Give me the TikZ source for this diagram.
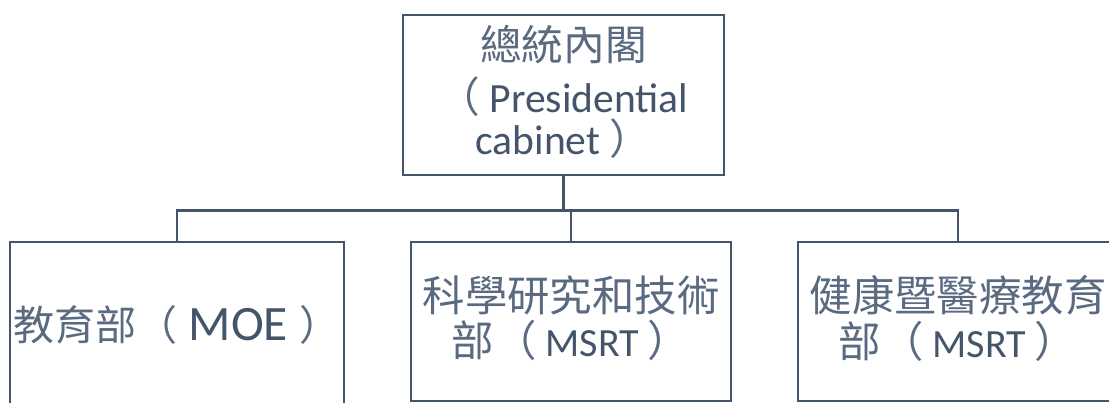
\documentclass[tikz,border=0pt]{standalone}
\usepackage{fontspec}
\setmainfont{Carlito}
\newfontfamily\cjk{Noto Sans CJK TC}
\definecolor{ln}{HTML}{44546A}
\definecolor{cj}{HTML}{5A6A80}
\newcommand\zh[2]{{\fontsize{#1}{#1}\selectfont\cjk\color{cj}#2}}
\begin{document}
\begin{tikzpicture}[x=1pt,y=-1pt,
  box/.style={draw=ln,line width=2.7pt,inner sep=0pt},
  lbl/.style={anchor=base,inner sep=0pt,text=ln},
  wire/.style={draw=ln,line width=2.7pt}]
\useasboundingbox (0,0) rectangle (1109,403);
\clip (0,0) rectangle (1109,403);
% boxes
\node[box,minimum width=321pt,minimum height=160pt] (top) at (563.5,95) {};
\node[box,minimum width=334pt,minimum height=208pt] (left) at (177,346) {};
\node[box,minimum width=320pt,minimum height=159pt] (mid) at (571,321.5) {};
\node[box,minimum width=320pt,minimum height=159pt] (right) at (958,321.5) {};
% connectors
\draw[wire] (top.south) -- ++(0,34) coordinate (j);
\draw[wire] (left.north) -- (left.north |- j) -- (right.north |- j) -- (right.north);
\draw[wire] (mid.north) -- (mid.north |- j);
% labels
\node[lbl] (t1) at (563.5,60.4) {\zh{41.7}{總統內閣}};
\node[lbl] (t2) at (563.5,113) {\zh{41.7}{（}\fontsize{41.6}{45}\selectfont\ Presidential};
\node[lbl] (t3) at (563.5,155) {\fontsize{41.6}{45}\selectfont cabinet\ \zh{41.7}{）}};
\node[lbl] (l1) at (177,341) {\zh{41}{教育部（}\fontsize{49.5}{52}\selectfont\ MOE\ \zh{41}{）}};
\node[lbl] (m1) at (571,312) {\zh{42.4}{科學研究和技術}};
\node[lbl] (m2) at (571,357) {\zh{42.4}{部（}\fontsize{40}{44}\selectfont\ MSRT\ \zh{42.4}{）}};
\node[lbl] (r1) at (958,312) {\zh{42.4}{健康暨醫療教育}};
\node[lbl] (r2) at (958,358) {\zh{42.4}{部（}\fontsize{40}{44}\selectfont\ MSRT\ \zh{42.4}{）}};
\end{tikzpicture}
\end{document}
